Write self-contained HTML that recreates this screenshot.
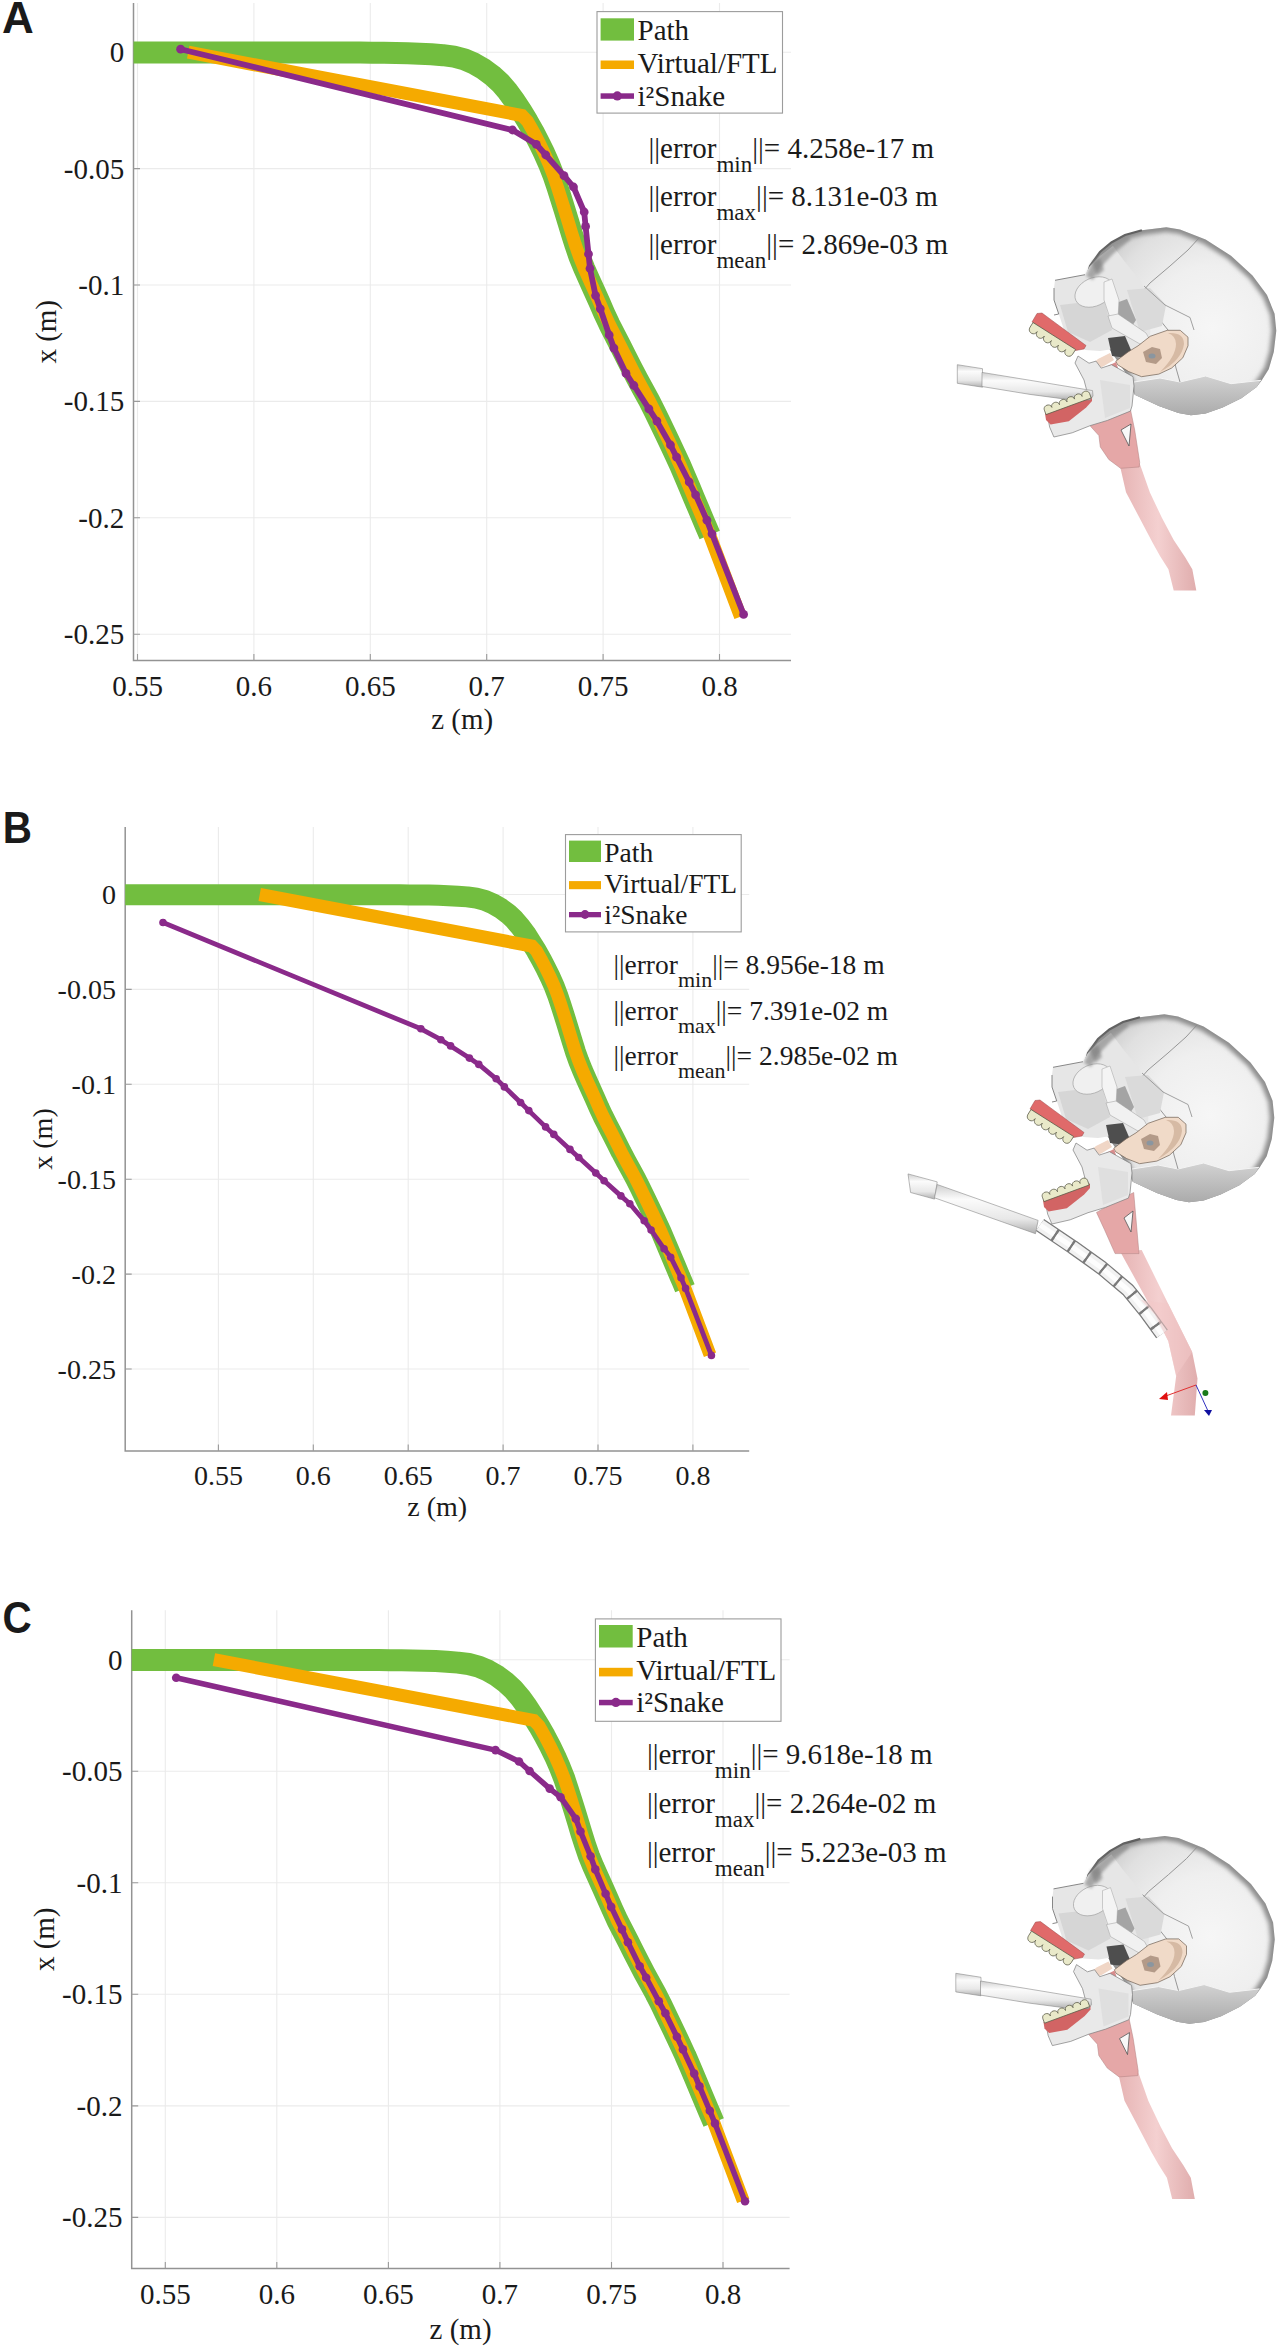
<!DOCTYPE html>
<html><head><meta charset="utf-8"><style>
html,body{margin:0;padding:0;background:#fff;}
svg{display:block;font-family:"Liberation Serif",serif;}
</style></head><body>
<svg width="1280" height="2346" viewBox="0 0 1280 2346">
<rect width="1280" height="2346" fill="#fff"/>
<g fill="#1a1a1a">
<clipPath id="clipA"><rect x="133.5" y="3" width="657.5" height="657.5"/></clipPath>
<path d="M137.5 3V660.5M253.9 3V660.5M370.3 3V660.5M486.7 3V660.5M603.1 3V660.5M719.5 3V660.5M133.5 52.2H791M133.5 168.6H791M133.5 285H791M133.5 401.4H791M133.5 517.8H791M133.5 634.2H791" stroke="#ebebeb" stroke-width="1.1" fill="none"/>
<path d="M133.5 3V660.5H791" stroke="#939393" stroke-width="1.5" fill="none"/>
<path d="M137.5 660.5v-6.5M253.9 660.5v-6.5M370.3 660.5v-6.5M486.7 660.5v-6.5M603.1 660.5v-6.5M719.5 660.5v-6.5M133.5 52.2h6.5M133.5 168.6h6.5M133.5 285h6.5M133.5 401.4h6.5M133.5 517.8h6.5M133.5 634.2h6.5" stroke="#9a9a9a" stroke-width="1.1" fill="none"/>
<text x="137.5" y="696" font-size="29" text-anchor="middle">0.55</text>
<text x="253.9" y="696" font-size="29" text-anchor="middle">0.6</text>
<text x="370.3" y="696" font-size="29" text-anchor="middle">0.65</text>
<text x="486.7" y="696" font-size="29" text-anchor="middle">0.7</text>
<text x="603.1" y="696" font-size="29" text-anchor="middle">0.75</text>
<text x="719.5" y="696" font-size="29" text-anchor="middle">0.8</text>
<text x="124.2" y="62.2" font-size="29" text-anchor="end">0</text>
<text x="124.2" y="178.6" font-size="29" text-anchor="end">-0.05</text>
<text x="124.2" y="295" font-size="29" text-anchor="end">-0.1</text>
<text x="124.2" y="411.4" font-size="29" text-anchor="end">-0.15</text>
<text x="124.2" y="527.8" font-size="29" text-anchor="end">-0.2</text>
<text x="124.2" y="644.2" font-size="29" text-anchor="end">-0.25</text>
<text x="462.2" y="728.5" font-size="29" text-anchor="middle">z (m)</text>
<text transform="translate(55.6 331.8) rotate(-90)" font-size="29" text-anchor="middle">x (m)</text>
<g clip-path="url(#clipA)" fill="none" stroke-linejoin="round">
<polyline points="-300,52.4 300,52.4 312,52.4 324,52.5 336,52.5 348,52.6 360,52.6 372,52.7 384,52.7 395.8,52.9 407.6,53.2 419.5,53.7 431.3,54.3 442.9,55.2 454,56.7 464.4,59.4 474.3,63.7 483.9,69.3 492.7,75.8 500.6,83.1 507.7,91.4 514.5,100.7 521.1,110.8 527.5,121.3 533.6,132.1 539.1,142.7 544.3,153.4 549.2,164.4 553.6,175.7 557.4,187 561,198.4 564.7,210.2 568.3,222 571.8,233.6 575.4,245 579.5,256.8 584.3,268.6 589.4,280.1 594.4,291.1 599.3,302.1 604.2,313.3 609.4,324.4 614.9,335.2 620.5,346.1 626.1,357.2 631.7,368.3 637.4,379.2 643.4,390.1 649.1,400.6 654.5,411.2 659.8,422.1 664.8,432.6 669.9,443.2 675,454.1 680.1,465.2 684.9,476.3 689.6,487.4 694.2,498.4 698.9,509.6 703.6,520.7 706,526.3 709.7,535.1" stroke="#72be3f" stroke-width="22" stroke-linecap="butt"/>
<polyline points="188.2,52.2 522,115.5 527.5,121.3 533.6,132.1 539.1,142.7 544.3,153.4 549.2,164.4 553.6,175.7 557.4,187 561,198.4 564.7,210.2 568.3,222 571.8,233.6 575.4,245 579.5,256.8 584.3,268.6 589.4,280.1 594.4,291.1 599.3,302.1 604.2,313.3 609.4,324.4 614.9,335.2 620.5,346.1 626.1,357.2 631.7,368.3 637.4,379.2 643.4,390.1 649.1,400.6 654.5,411.2 659.8,422.1 664.8,432.6 669.9,443.2 675,454.1 680.1,465.2 684.9,476.3 689.6,487.4 694.2,498.4 698.9,509.6 703.6,520.7 706,526.3 709.7,535.1 740.5,616.7" stroke="#f5aa00" stroke-width="13" stroke-linecap="butt" stroke-linejoin="miter"/>
<polyline points="180.6,49.2 512.5,130 536.3,144.3 545.8,155 564,175.7 573.5,187 584.2,212 585.6,226.4 588.5,254 590,268.5 595.6,295.6 600.3,308.8 609.2,335 613.9,348.1 626,373.4 633.9,385.5 648.9,408.9 656.9,421.1 670.5,445 676.6,457.2 689.2,482 695.6,494.8 706.9,520.2 712,533.8 743.6,614.4" stroke="#8a2a8a" stroke-width="5.8" stroke-linecap="round"/>
<g fill="#8a2a8a" stroke="none"><circle cx="180.6" cy="49.2" r="4.4"/><circle cx="512.5" cy="130" r="4.4"/><circle cx="536.3" cy="144.3" r="4.4"/><circle cx="545.8" cy="155" r="4.4"/><circle cx="564" cy="175.7" r="4.4"/><circle cx="573.5" cy="187" r="4.4"/><circle cx="584.2" cy="212" r="4.4"/><circle cx="585.6" cy="226.4" r="4.4"/><circle cx="588.5" cy="254" r="4.4"/><circle cx="590" cy="268.5" r="4.4"/><circle cx="595.6" cy="295.6" r="4.4"/><circle cx="600.3" cy="308.8" r="4.4"/><circle cx="609.2" cy="335" r="4.4"/><circle cx="613.9" cy="348.1" r="4.4"/><circle cx="626" cy="373.4" r="4.4"/><circle cx="633.9" cy="385.5" r="4.4"/><circle cx="648.9" cy="408.9" r="4.4"/><circle cx="656.9" cy="421.1" r="4.4"/><circle cx="670.5" cy="445" r="4.4"/><circle cx="676.6" cy="457.2" r="4.4"/><circle cx="689.2" cy="482" r="4.4"/><circle cx="695.6" cy="494.8" r="4.4"/><circle cx="706.9" cy="520.2" r="4.4"/><circle cx="712" cy="533.8" r="4.4"/><circle cx="743.6" cy="614.4" r="4.4"/></g>
</g>
<rect x="597" y="11.6" width="185.5" height="101.5" fill="#fff" stroke="#9c9c9c" stroke-width="1.1"/>
<rect x="600.6" y="18.3" width="33.4" height="22.3" fill="#72be3f"/>
<rect x="600.6" y="60.5" width="33.4" height="8.5" fill="#f5aa00"/>
<rect x="600.6" y="93.3" width="33.4" height="5.5" fill="#8a2a8a"/>
<circle cx="617.3" cy="95.9" r="4.6" fill="#8a2a8a"/>
<text x="637.5" y="40.2" font-size="29">Path</text>
<text x="637.5" y="73" font-size="29">Virtual/FTL</text>
<text x="637.5" y="105.8" font-size="29">i²Snake</text>
<text x="648.5" y="157.5" font-size="29">||error<tspan font-size="23" dy="14">min</tspan><tspan dy="-14">||= 4.258e-17 m</tspan></text>
<text x="648.5" y="206.2" font-size="29">||error<tspan font-size="23" dy="14">max</tspan><tspan dy="-14">||= 8.131e-03 m</tspan></text>
<text x="648.5" y="254.3" font-size="29">||error<tspan font-size="23" dy="14">mean</tspan><tspan dy="-14">||= 2.869e-03 m</tspan></text>
<text transform="translate(2 32.8) scale(1.0 1)" font-family="Liberation Sans" font-weight="bold" font-size="44">A</text>
<clipPath id="clipB"><rect x="125.2" y="827" width="624" height="624"/></clipPath>
<path d="M218.4 827V1451M313.3 827V1451M408.2 827V1451M503.1 827V1451M598 827V1451M692.9 827V1451M125.2 894.5H749.2M125.2 989.4H749.2M125.2 1084.3H749.2M125.2 1179.2H749.2M125.2 1274.1H749.2M125.2 1369H749.2" stroke="#ebebeb" stroke-width="1.1" fill="none"/>
<path d="M125.2 827V1451H749.2" stroke="#939393" stroke-width="1.5" fill="none"/>
<path d="M218.4 1451v-6.5M313.3 1451v-6.5M408.2 1451v-6.5M503.1 1451v-6.5M598 1451v-6.5M692.9 1451v-6.5M125.2 894.5h6.5M125.2 989.4h6.5M125.2 1084.3h6.5M125.2 1179.2h6.5M125.2 1274.1h6.5M125.2 1369h6.5" stroke="#9a9a9a" stroke-width="1.1" fill="none"/>
<text x="218.4" y="1485.3" font-size="28" text-anchor="middle">0.55</text>
<text x="313.3" y="1485.3" font-size="28" text-anchor="middle">0.6</text>
<text x="408.2" y="1485.3" font-size="28" text-anchor="middle">0.65</text>
<text x="503.1" y="1485.3" font-size="28" text-anchor="middle">0.7</text>
<text x="598" y="1485.3" font-size="28" text-anchor="middle">0.75</text>
<text x="692.9" y="1485.3" font-size="28" text-anchor="middle">0.8</text>
<text x="115.9" y="904.2" font-size="28" text-anchor="end">0</text>
<text x="115.9" y="999.1" font-size="28" text-anchor="end">-0.05</text>
<text x="115.9" y="1094" font-size="28" text-anchor="end">-0.1</text>
<text x="115.9" y="1188.9" font-size="28" text-anchor="end">-0.15</text>
<text x="115.9" y="1283.8" font-size="28" text-anchor="end">-0.2</text>
<text x="115.9" y="1378.7" font-size="28" text-anchor="end">-0.25</text>
<text x="437.2" y="1515.5" font-size="28" text-anchor="middle">z (m)</text>
<text transform="translate(52 1139) rotate(-90)" font-size="28" text-anchor="middle">x (m)</text>
<g clip-path="url(#clipB)" fill="none" stroke-linejoin="round">
<polyline points="-138.3,894.7 350.9,894.7 360.7,894.7 370.5,894.7 380.2,894.7 390,894.8 399.8,894.8 409.6,894.9 419.4,894.9 429,895.1 438.6,895.3 448.3,895.7 457.9,896.2 467.4,896.9 476.4,898.2 484.9,900.4 493,903.9 500.8,908.4 508,913.7 514.4,919.7 520.2,926.5 525.8,934 531.1,942.3 536.4,950.8 541.3,959.6 545.8,968.3 550.1,977 554.1,986 557.6,995.2 560.7,1004.4 563.7,1013.7 566.7,1023.3 569.6,1032.9 572.5,1042.4 575.4,1051.7 578.8,1061.3 582.7,1070.9 586.8,1080.3 590.9,1089.3 594.9,1098.2 598.9,1107.4 603.1,1116.4 607.6,1125.2 612.2,1134.1 616.8,1143.2 621.3,1152.2 626,1161.1 630.9,1170 635.5,1178.5 639.9,1187.2 644.2,1196.1 648.3,1204.6 652.5,1213.3 656.6,1222.2 660.8,1231.2 664.7,1240.3 668.5,1249.3 672.3,1258.3 676.1,1267.4 679.9,1276.5 681.9,1281 684.9,1288.2" stroke="#72be3f" stroke-width="21" stroke-linecap="butt"/>
<polyline points="259.7,894.5 531.9,946.1 536.4,950.8 541.3,959.6 545.8,968.3 550.1,977 554.1,986 557.6,995.2 560.7,1004.4 563.7,1013.7 566.7,1023.3 569.6,1032.9 572.5,1042.4 575.4,1051.7 578.8,1061.3 582.7,1070.9 586.8,1080.3 590.9,1089.3 594.9,1098.2 598.9,1107.4 603.1,1116.4 607.6,1125.2 612.2,1134.1 616.8,1143.2 621.3,1152.2 626,1161.1 630.9,1170 635.5,1178.5 639.9,1187.2 644.2,1196.1 648.3,1204.6 652.5,1213.3 656.6,1222.2 660.8,1231.2 664.7,1240.3 668.5,1249.3 672.3,1258.3 676.1,1267.4 679.9,1276.5 681.9,1281 684.9,1288.2 710,1354.7" stroke="#f5aa00" stroke-width="13" stroke-linecap="butt" stroke-linejoin="miter"/>
<polyline points="163,922.5 420.9,1028.8 440.9,1039.7 450.6,1045.9 469.4,1058.1 478.8,1064.4 496.2,1078.8 504.4,1086.9 520.6,1102.5 528.8,1110.6 545.6,1126.9 553.8,1134.4 570,1149.4 578.8,1157.5 595.8,1173 604.1,1180.7 620.9,1195.9 629.8,1203.8 644.2,1220.8 651.1,1230 664.1,1248.8 670.7,1257.2 681,1277.7 685.6,1288.4 711.4,1355.4" stroke="#8a2a8a" stroke-width="4.8" stroke-linecap="round"/>
<g fill="#8a2a8a" stroke="none"><circle cx="163" cy="922.5" r="3.8"/><circle cx="420.9" cy="1028.8" r="3.8"/><circle cx="440.9" cy="1039.7" r="3.8"/><circle cx="450.6" cy="1045.9" r="3.8"/><circle cx="469.4" cy="1058.1" r="3.8"/><circle cx="478.8" cy="1064.4" r="3.8"/><circle cx="496.2" cy="1078.8" r="3.8"/><circle cx="504.4" cy="1086.9" r="3.8"/><circle cx="520.6" cy="1102.5" r="3.8"/><circle cx="528.8" cy="1110.6" r="3.8"/><circle cx="545.6" cy="1126.9" r="3.8"/><circle cx="553.8" cy="1134.4" r="3.8"/><circle cx="570" cy="1149.4" r="3.8"/><circle cx="578.8" cy="1157.5" r="3.8"/><circle cx="595.8" cy="1173" r="3.8"/><circle cx="604.1" cy="1180.7" r="3.8"/><circle cx="620.9" cy="1195.9" r="3.8"/><circle cx="629.8" cy="1203.8" r="3.8"/><circle cx="644.2" cy="1220.8" r="3.8"/><circle cx="651.1" cy="1230" r="3.8"/><circle cx="664.1" cy="1248.8" r="3.8"/><circle cx="670.7" cy="1257.2" r="3.8"/><circle cx="681" cy="1277.7" r="3.8"/><circle cx="685.6" cy="1288.4" r="3.8"/><circle cx="711.4" cy="1355.4" r="3.8"/></g>
</g>
<rect x="565.5" y="834.6" width="175.7" height="97.3" fill="#fff" stroke="#9c9c9c" stroke-width="1.1"/>
<rect x="569" y="840.6" width="32" height="21.4" fill="#72be3f"/>
<rect x="569" y="881.1" width="32" height="8.1" fill="#f5aa00"/>
<rect x="569" y="912" width="32" height="5.3" fill="#8a2a8a"/>
<circle cx="585" cy="914.5" r="4.4" fill="#8a2a8a"/>
<text x="604.3" y="861.6" font-size="27.5">Path</text>
<text x="604.3" y="893.1" font-size="27.5">Virtual/FTL</text>
<text x="604.3" y="924" font-size="27.5">i²Snake</text>
<text x="613.5" y="973.8" font-size="27.5">||error<tspan font-size="22" dy="13.3">min</tspan><tspan dy="-13.3">||= 8.956e-18 m</tspan></text>
<text x="613.5" y="1019.5" font-size="27.5">||error<tspan font-size="22" dy="13.3">max</tspan><tspan dy="-13.3">||= 7.391e-02 m</tspan></text>
<text x="613.5" y="1065" font-size="27.5">||error<tspan font-size="22" dy="13.3">mean</tspan><tspan dy="-13.3">||= 2.985e-02 m</tspan></text>
<text transform="translate(2.8 842.5) scale(0.92 1)" font-family="Liberation Sans" font-weight="bold" font-size="44">B</text>
<clipPath id="clipC"><rect x="131.7" y="1610.3" width="657.9" height="658.1"/></clipPath>
<path d="M165.3 1610.3V2268.4M276.8 1610.3V2268.4M388.4 1610.3V2268.4M499.9 1610.3V2268.4M611.5 1610.3V2268.4M723 1610.3V2268.4M131.7 1659.7H789.6M131.7 1771.2H789.6M131.7 1882.8H789.6M131.7 1994.3H789.6M131.7 2105.9H789.6M131.7 2217.4H789.6" stroke="#ebebeb" stroke-width="1.1" fill="none"/>
<path d="M131.7 1610.3V2268.4H789.6" stroke="#939393" stroke-width="1.5" fill="none"/>
<path d="M165.3 2268.4v-6.5M276.8 2268.4v-6.5M388.4 2268.4v-6.5M499.9 2268.4v-6.5M611.5 2268.4v-6.5M723 2268.4v-6.5M131.7 1659.7h6.5M131.7 1771.2h6.5M131.7 1882.8h6.5M131.7 1994.3h6.5M131.7 2105.9h6.5M131.7 2217.4h6.5" stroke="#9a9a9a" stroke-width="1.1" fill="none"/>
<text x="165.3" y="2303.9" font-size="29" text-anchor="middle">0.55</text>
<text x="276.8" y="2303.9" font-size="29" text-anchor="middle">0.6</text>
<text x="388.4" y="2303.9" font-size="29" text-anchor="middle">0.65</text>
<text x="499.9" y="2303.9" font-size="29" text-anchor="middle">0.7</text>
<text x="611.5" y="2303.9" font-size="29" text-anchor="middle">0.75</text>
<text x="723" y="2303.9" font-size="29" text-anchor="middle">0.8</text>
<text x="122.4" y="1669.7" font-size="29" text-anchor="end">0</text>
<text x="122.4" y="1781.2" font-size="29" text-anchor="end">-0.05</text>
<text x="122.4" y="1892.8" font-size="29" text-anchor="end">-0.1</text>
<text x="122.4" y="2004.3" font-size="29" text-anchor="end">-0.15</text>
<text x="122.4" y="2115.9" font-size="29" text-anchor="end">-0.2</text>
<text x="122.4" y="2227.4" font-size="29" text-anchor="end">-0.25</text>
<text x="460.6" y="2339" font-size="29" text-anchor="middle">z (m)</text>
<text transform="translate(53.8 1939.3) rotate(-90)" font-size="29" text-anchor="middle">x (m)</text>
<g clip-path="url(#clipC)" fill="none" stroke-linejoin="round">
<polyline points="-254,1659.9 321,1659.9 332.5,1659.9 344,1660 355.5,1660 367,1660.1 378.5,1660.1 390,1660.2 401.5,1660.2 412.8,1660.4 424.1,1660.7 435.6,1661.1 446.9,1661.7 458,1662.6 468.6,1664 478.6,1666.6 488.1,1670.7 497.3,1676.1 505.7,1682.3 513.3,1689.3 520.1,1697.3 526.6,1706.2 532.9,1715.9 539,1725.9 544.9,1736.3 550.2,1746.4 555.2,1756.7 559.8,1767.2 564.1,1778.1 567.7,1788.9 571.2,1799.8 574.7,1811.1 578.2,1822.4 581.5,1833.5 585,1844.5 588.9,1855.8 593.5,1867.1 598.4,1878.1 603.2,1888.6 607.9,1899.2 612.6,1909.9 617.5,1920.6 622.8,1930.9 628.2,1941.4 633.5,1952 638.9,1962.6 644.4,1973.1 650.1,1983.5 655.6,1993.6 660.8,2003.7 665.8,2014.2 670.6,2024.2 675.5,2034.4 680.4,2044.9 685.3,2055.5 689.9,2066.1 694.4,2076.8 698.8,2087.3 703.3,2098 707.8,2108.7 710.1,2114 713.7,2122.5" stroke="#72be3f" stroke-width="22" stroke-linecap="butt"/>
<polyline points="213.9,1659.7 533.8,1720.4 539,1725.9 544.9,1736.3 550.2,1746.4 555.2,1756.7 559.8,1767.2 564.1,1778.1 567.7,1788.9 571.2,1799.8 574.7,1811.1 578.2,1822.4 581.5,1833.5 585,1844.5 588.9,1855.8 593.5,1867.1 598.4,1878.1 603.2,1888.6 607.9,1899.2 612.6,1909.9 617.5,1920.6 622.8,1930.9 628.2,1941.4 633.5,1952 638.9,1962.6 644.4,1973.1 650.1,1983.5 655.6,1993.6 660.8,2003.7 665.8,2014.2 670.6,2024.2 675.5,2034.4 680.4,2044.9 685.3,2055.5 689.9,2066.1 694.4,2076.8 698.8,2087.3 703.3,2098 707.8,2108.7 710.1,2114 713.7,2122.5 743.2,2200.7" stroke="#f5aa00" stroke-width="13" stroke-linecap="butt" stroke-linejoin="miter"/>
<polyline points="176.2,1677.8 495.5,1750.1 519,1761.5 529.6,1771 549.7,1788.6 560.6,1797.2 575.8,1818.7 580.5,1831.5 590.6,1856.2 595.3,1869.4 605.6,1893.8 611.2,1906.9 622,1929.4 627.9,1942.2 639.7,1966.2 646.2,1977.7 658.8,2001.2 665.4,2013.3 676.9,2036.8 682.9,2049.4 694.2,2073.6 699.5,2086.4 709.8,2110.8 715,2123.4 745,2201.2" stroke="#8a2a8a" stroke-width="5.5" stroke-linecap="round"/>
<g fill="#8a2a8a" stroke="none"><circle cx="176.2" cy="1677.8" r="4.3"/><circle cx="495.5" cy="1750.1" r="4.3"/><circle cx="519" cy="1761.5" r="4.3"/><circle cx="529.6" cy="1771" r="4.3"/><circle cx="549.7" cy="1788.6" r="4.3"/><circle cx="560.6" cy="1797.2" r="4.3"/><circle cx="575.8" cy="1818.7" r="4.3"/><circle cx="580.5" cy="1831.5" r="4.3"/><circle cx="590.6" cy="1856.2" r="4.3"/><circle cx="595.3" cy="1869.4" r="4.3"/><circle cx="605.6" cy="1893.8" r="4.3"/><circle cx="611.2" cy="1906.9" r="4.3"/><circle cx="622" cy="1929.4" r="4.3"/><circle cx="627.9" cy="1942.2" r="4.3"/><circle cx="639.7" cy="1966.2" r="4.3"/><circle cx="646.2" cy="1977.7" r="4.3"/><circle cx="658.8" cy="2001.2" r="4.3"/><circle cx="665.4" cy="2013.3" r="4.3"/><circle cx="676.9" cy="2036.8" r="4.3"/><circle cx="682.9" cy="2049.4" r="4.3"/><circle cx="694.2" cy="2073.6" r="4.3"/><circle cx="699.5" cy="2086.4" r="4.3"/><circle cx="709.8" cy="2110.8" r="4.3"/><circle cx="715" cy="2123.4" r="4.3"/><circle cx="745" cy="2201.2" r="4.3"/></g>
</g>
<rect x="595.4" y="1618.9" width="185.6" height="102.4" fill="#fff" stroke="#9c9c9c" stroke-width="1.1"/>
<rect x="599" y="1625" width="33.7" height="22.5" fill="#72be3f"/>
<rect x="599" y="1667.8" width="33.7" height="8.6" fill="#f5aa00"/>
<rect x="599" y="1699.8" width="33.7" height="5.5" fill="#8a2a8a"/>
<circle cx="615.9" cy="1702.4" r="4.6" fill="#8a2a8a"/>
<text x="636.3" y="1647.1" font-size="29">Path</text>
<text x="636.3" y="1680.4" font-size="29">Virtual/FTL</text>
<text x="636.3" y="1712.4" font-size="29">i²Snake</text>
<text x="646.9" y="1764.4" font-size="29">||error<tspan font-size="23" dy="14">min</tspan><tspan dy="-14">||= 9.618e-18 m</tspan></text>
<text x="646.9" y="1813.4" font-size="29">||error<tspan font-size="23" dy="14">max</tspan><tspan dy="-14">||= 2.264e-02 m</tspan></text>
<text x="646.9" y="1862.4" font-size="29">||error<tspan font-size="23" dy="14">mean</tspan><tspan dy="-14">||= 5.223e-03 m</tspan></text>
<text transform="translate(2.6 1633.4) scale(0.92 1)" font-family="Liberation Sans" font-weight="bold" font-size="44">C</text>
</g>
<defs>
<radialGradient id="gCran" cx="1212" cy="328" r="125" gradientUnits="userSpaceOnUse">
<stop offset="0" stop-color="#f6f6f6"/><stop offset="0.5" stop-color="#efefef"/><stop offset="0.85" stop-color="#e0e0e0"/><stop offset="1" stop-color="#d0d0d0"/></radialGradient>
<filter id="fBlur" x="-10%" y="-10%" width="120%" height="120%"><feGaussianBlur stdDeviation="2.2"/></filter>
<filter id="fBlur2" x="-20%" y="-20%" width="140%" height="140%"><feGaussianBlur stdDeviation="1.5"/></filter>
<linearGradient id="gOcc" x1="0" y1="0" x2="0" y2="1">
<stop offset="0" stop-color="#d2d2d2"/><stop offset="1" stop-color="#ababab"/></linearGradient>
<linearGradient id="gTube" x1="0" y1="0" x2="0" y2="1">
<stop offset="0" stop-color="#cfcfcf"/><stop offset="0.3" stop-color="#fbfbfb"/><stop offset="0.7" stop-color="#e8e8e8"/><stop offset="1" stop-color="#b0b0b0"/></linearGradient>
<linearGradient id="gTrach" x1="0" y1="0" x2="1" y2="0">
<stop offset="0" stop-color="#e6b4b4"/><stop offset="0.5" stop-color="#f4d0d0"/><stop offset="1" stop-color="#e0adad"/></linearGradient>
<g id="skBack">
<clipPath id="cCran"><polygon points="1086.0,282.0 1090.0,266.0 1100.0,252.0 1111.4,242.5 1125.0,235.0 1141.9,230.3 1166.3,227.3 1180.0,229.4 1205.6,239.6 1231.0,255.8 1252.5,275.4 1267.0,295.0 1274.6,313.8 1276.3,330.8 1273.8,352.1 1268.7,369.2 1261.8,380.3 1256.7,387.1 1241.4,398.2 1222.6,407.6 1205.6,413.5 1191.0,415.2 1178.4,413.1 1158.8,406.0 1134.7,394.8 1125.0,372.0 1110.0,350.0 1092.0,320.0"/></clipPath>
<g clip-path="url(#cCran)"><rect x="1080" y="220" width="200" height="200" fill="url(#gCran)"/><polygon points="1086.0,282.0 1090.0,266.0 1100.0,252.0 1111.4,242.5 1125.0,235.0 1141.9,230.3 1166.3,227.3 1180.0,229.4 1205.6,239.6 1231.0,255.8 1252.5,275.4 1267.0,295.0 1274.6,313.8 1276.3,330.8 1273.8,352.1 1268.7,369.2 1261.8,380.3 1256.7,387.1 1241.4,398.2 1222.6,407.6 1205.6,413.5 1191.0,415.2 1178.4,413.1 1158.8,406.0 1134.7,394.8 1125.0,372.0 1110.0,350.0 1092.0,320.0" fill="none" stroke="#8e8e8e" stroke-width="9" filter="url(#fBlur)"/></g>
<path d="M1086,282 L1090,266 L1100,252 L1111.4,242.5 L1125,235 L1141.9,230.3" fill="none" stroke="#606060" stroke-width="2.2"/>
<polygon points="1134.0,382.0 1160.0,378.0 1180.0,382.0 1205.6,376.0 1231.0,383.7 1261.0,380.3 1256.7,387.1 1241.4,398.2 1222.6,407.6 1205.6,413.5 1191.0,415.2 1178.4,413.1 1158.8,406.0 1134.7,394.8" fill="url(#gOcc)"/>
<path d="M1134,382 L1160,378 L1180,382 L1205.6,376 L1231,383.7 L1261,380.3" fill="none" stroke="#f4f4f4" stroke-width="1"/>
<path d="M1199,238 L1188,250 L1170,266 L1150,283 L1135,300 M1168,330 L1172,352 L1176,368 L1180,382 M1135,300 L1160,320 L1168,330" stroke="#8c8c8c" stroke-width="0.9" fill="none"/>
<polygon points="1055.0,280.3 1085.0,274.7 1090.0,266.0 1100.0,256.0 1113.0,246.0 1125.0,262.0 1140.0,280.0 1152.0,305.0 1150.0,335.0 1143.0,345.0 1128.0,352.0 1113.0,349.0 1100.0,351.0 1085.0,350.0 1066.0,336.0 1058.8,314.0 1054.0,300.0 1054.0,288.0" fill="#e6e6e6"/>
<path d="M1055,280.3 L1085,274.7 M1054,288 L1054,300 L1058.75,314 L1054,315" fill="none" stroke="#7a7a7a" stroke-width="0.9"/>
<polygon points="1127,290 1150,288 1166,305 1162,326 1140,332" fill="#dadada"/>
<polygon points="1060,305 1104,300 1112,330 1090,342 1068,332" fill="#d6d6d6"/>
<ellipse cx="1094" cy="292" rx="20" ry="14" transform="rotate(-25 1094 292)" fill="#f0f0f0" stroke="#9c9c9c" stroke-width="0.6"/>
<polygon points="1086,276 1092,263 1103,251 1115,243 1127,236 1131,239 1113,254 1100,268 1093,280" fill="#8c8c8c" opacity="0.7" filter="url(#fBlur2)"/>
<polygon points="1092,262 1100,258 1104,270 1097,276" fill="#7a7a7a" opacity="0.6" filter="url(#fBlur2)"/>
<polygon points="1116,303 1127,299 1136,320 1129,331 1118,324" fill="#8e8e8e" opacity="0.75"/>
<polygon points="1104,282 1112,279 1119,300 1118,318 1110,318 1104,300" fill="#f4f4f4" stroke="#a0a0a0" stroke-width="0.5"/>
<polygon points="1108,316 1118,314 1146,333 1151,342 1140,344 1112,328" fill="#f1f1f1" stroke="#9a9a9a" stroke-width="0.5"/>
<polygon points="1108,338 1125,336 1131,350 1127,358 1112,356" fill="#4e4e4e"/>
<path d="M1144,286 L1165,305 L1190,317.5 L1194,330" stroke="#8c8c8c" stroke-width="0.8" fill="none"/>
<polygon points="1115.8,361.2 1128.0,352.0 1138.1,345.8 1150.2,336.3 1167.3,330.3 1180.2,330.3 1188.0,337.2 1188.0,345.8 1182.8,357.8 1171.6,368.1 1158.8,374.1 1141.6,376.7 1128.7,371.6 1117.5,364.7" fill="#f0dac8" stroke="#6e5e52" stroke-width="0.7"/>
<path d="M1168,333 Q1184,332 1184,344 Q1182,360 1160,372 Q1176,356 1176,344 Q1176,336 1168,333 Z" fill="#d6baa4"/>
<polygon points="1160.0,338.0 1178.0,334.0 1185.0,342.0 1178.0,358.0 1165.0,366.0 1162.0,350.0" fill="#e6ccb8" opacity="0"/>
<polygon points="1143.0,352.0 1152.0,347.0 1160.0,349.0 1162.0,358.0 1156.0,364.0 1146.0,362.0" fill="#b39a88"/>
<ellipse cx="1152" cy="356" rx="3.5" ry="2.5" fill="#8a96a0"/>
<polygon points="1037.0,313.5 1042.0,313.0 1051.0,319.7 1086.0,345.5 1084.0,349.0 1075.6,350.5 1032.0,322.0" fill="#e06a6a" stroke="#9a4a4a" stroke-width="0.5"/>
<path d="M1033.0,322.5 L1075.6,349.5 L1072.7,354.1 C1069.5,359.2 1062.4,354.7 1065.6,349.6 C1062.4,354.7 1055.3,350.2 1058.5,345.1 C1055.3,350.2 1048.2,345.7 1051.4,340.6 C1048.2,345.7 1041.1,341.2 1044.3,336.1 C1041.1,341.2 1034.0,336.7 1037.2,331.6 C1034.0,336.7 1026.9,332.2 1030.1,327.1 Z" fill="#e9e9c9" stroke="#5a5a48" stroke-width="0.8"/>
</g>
<g id="skFront">
<polygon points="1086,369 1098,359 1110,353 1114,360 1104,366 1094,371" fill="#f0d6c6"/>
<polygon points="1096,372 1108,366 1116,362 1118,368 1106,374" fill="#d98c8c"/>
<polygon points="1075.0,363.0 1078.0,356.0 1089.0,363.2 1096.0,361.1 1101.2,368.1 1111.5,364.7 1133.0,376.7 1134.0,386.0 1132.0,406.0 1130.4,411.1 1107.2,420.5 1090.0,425.7 1072.2,432.8 1053.9,437.0 1049.7,427.2 1048.3,420.0 1060.0,414.0 1089.0,399.0 1084.0,380.0" fill="#e9e9e9" stroke="#7c7c7c" stroke-width="0.7"/>
<polygon points="1100.0,380.0 1130.0,385.0 1130.0,408.0 1105.0,418.0" fill="#dfdfdf"/>
<polygon points="1045.0,413.5 1092.0,396.5 1092.0,401.0 1086.2,407.5 1068.8,421.2 1050.6,424.5 1046.0,420.0" fill="#d26464"/>
</g>
<g id="skTeethLo"><path d="M1091.2,398.0 L1046.0,414.6 L1044.4,410.2 C1042.6,405.4 1050.2,402.7 1051.9,407.4 C1050.2,402.7 1057.7,399.9 1059.5,404.7 C1057.7,399.9 1065.3,397.1 1067.0,401.9 C1065.3,397.1 1072.8,394.4 1074.6,399.1 C1072.8,394.4 1080.3,391.6 1082.1,396.4 C1080.3,391.6 1087.9,388.8 1089.6,393.6 Z" fill="#e9e9c9" stroke="#5a5a48" stroke-width="0.8"/></g>
</defs>
<g id="skA">
<use href="#skBack"/>
<polygon points="1120.0,466.0 1139.5,463.0 1149.8,492.2 1162.0,518.0 1173.7,540.0 1185.0,557.0 1192.3,569.2 1196.3,590.4 1173.7,590.4 1168.4,569.2 1160.0,556.0 1152.5,542.6 1138.0,515.0 1126.0,492.2" fill="url(#gTrach)"/>
<polygon points="1090.0,425.7 1108.8,416.0 1129.5,405.0 1134.7,430.0 1139.7,462.3 1139.2,467.0 1120.6,468.3 1108.8,459.5 1100.3,446.9 1098.9,435.6" fill="#e5a7a7" stroke="#b08080" stroke-width="0.5"/>
<polygon points="1121.0,430.0 1131.0,424.0 1129.0,446.0" fill="#f8f8f8" stroke="#555" stroke-width="0.8"/>
<use href="#skFront"/>
<polygon points="957.3,364.7 982.5,368.7 982.5,387.2 957.3,383.3" fill="url(#gTube)" stroke="#8a8a8a" stroke-width="0.6"/>
<polygon points="982.0,372.4 1092.5,390.6 1093.0,396.0 1090.0,400.0 1067.5,399.4 1030.0,394.4 982.0,386.5" fill="url(#gTube)" stroke="#8a8a8a" stroke-width="0.6"/>
<use href="#skTeethLo"/>
</g>
<use href="#skA" transform="translate(-1.5 1608.6)"/>
<g transform="translate(-2 787)">
<use href="#skBack"/>
<polygon points="1122.4,465.0 1143.7,463.0 1170.3,517.0 1194.2,564.9 1199.5,591.4 1196.8,628.6 1173.0,628.6 1178.2,588.8 1170.3,554.2 1157.0,527.7" fill="url(#gTrach)"/>
<polygon points="1098.5,425.4 1117.0,415.0 1135.7,405.5 1141.0,466.6 1117.1,466.6 1106.5,442.7" fill="#e5a7a7" stroke="#b08080" stroke-width="0.5"/>
<polygon points="1126.0,431.0 1135.0,424.0 1133.0,445.0" fill="#f8f8f8" stroke="#555" stroke-width="0.8"/>
<use href="#skFront"/>
<use href="#skTeethLo"/>
</g>
<polygon points="908.0,1173.9 937.2,1181.9 934.5,1199.1 910.6,1192.5" fill="url(#gTube)" stroke="#8a8a8a" stroke-width="0.6"/>
<polygon points="937.2,1184.5 1038.1,1220.4 1035.5,1233.7 934.5,1197.8" fill="url(#gTube)" stroke="#8a8a8a" stroke-width="0.6"/>
<polyline points="1040.0,1225.0 1072.6,1247.0 1101.9,1268.0 1128.0,1290.0 1146.0,1312.0 1162.0,1334.0" fill="none" stroke="#7a7a7a" stroke-width="14.5" stroke-linejoin="round"/>
<polyline points="1040.0,1225.0 1072.6,1247.0 1101.9,1268.0 1128.0,1290.0 1146.0,1312.0 1162.0,1334.0" fill="none" stroke="#f2f2f2" stroke-width="12" stroke-linejoin="round" stroke-dasharray="17 2.5"/>
<polyline points="1040.0,1225.0 1072.6,1247.0 1101.9,1268.0 1128.0,1290.0 1146.0,1312.0 1162.0,1334.0" fill="none" stroke="#ffffff" stroke-width="5" stroke-linejoin="round" stroke-dasharray="17 2.5" opacity="0.8"/>
<polygon points="1141.0,1300.0 1168.3,1304.0 1192.2,1351.9 1176.0,1376.0 1168.3,1341.2 1155.0,1314.7" fill="#f2c8c8" opacity="0.55"/>
<path d="M1163,1397 L1196,1385" stroke="#e03030" stroke-width="1"/><polygon points="1159,1399 1167,1392 1168,1400" fill="#e01010"/><circle cx="1205.4" cy="1393" r="3" fill="#1a7a1a"/><path d="M1196,1385 L1208,1411" stroke="#3030c0" stroke-width="1"/><polygon points="1204,1410 1212,1410 1209,1416" fill="#1010a0"/>
</svg>
</body></html>
